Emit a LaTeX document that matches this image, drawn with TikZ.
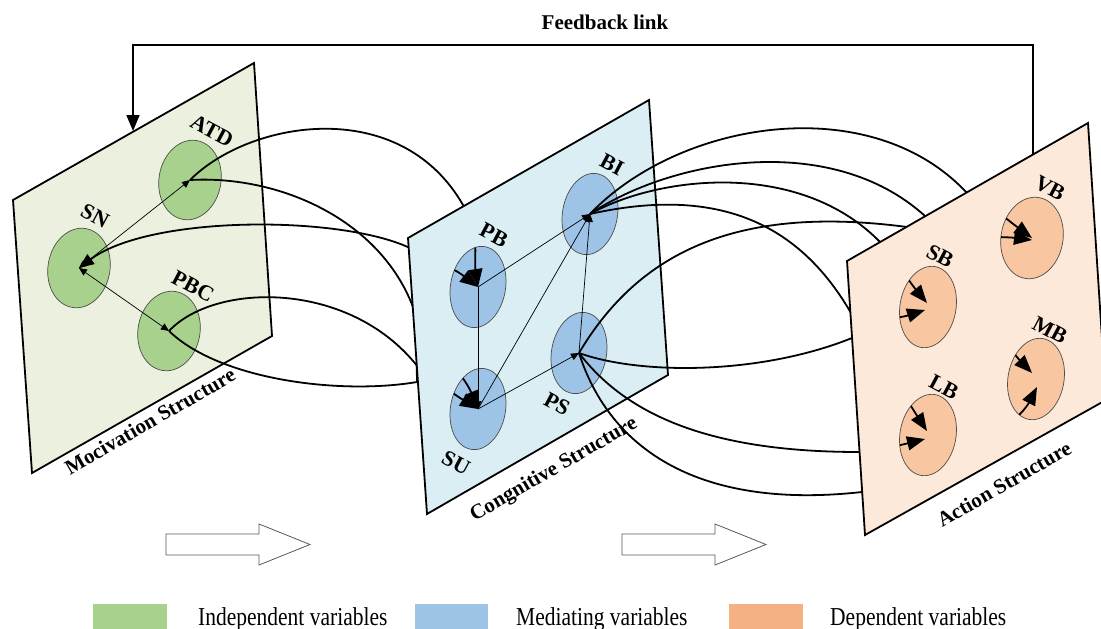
\documentclass[tikz,border=0pt]{standalone}
\usepackage{fontspec}
\setmainfont{Liberation Serif}
\usetikzlibrary{shapes.geometric,arrows.meta,calc}
\pgfdeclarelayer{motive}
\pgfdeclarelayer{leftlinks}
\pgfdeclarelayer{cognition}
\pgfdeclarelayer{cogtop}
\pgfdeclarelayer{rightlinks}
\pgfdeclarelayer{action}
\pgfsetlayers{motive,leftlinks,cognition,cogtop,rightlinks,action,main}

\definecolor{indep}{HTML}{A9D18E}
\definecolor{medi}{HTML}{9DC3E6}
\definecolor{depend}{HTML}{F4B183}
\definecolor{lpanel}{HTML}{EBF1DE}
\definecolor{mpanel}{HTML}{DAEEF3}
\definecolor{rpanel}{HTML}{FDE9D9}
\definecolor{rbubble}{HTML}{F8C6A0}
\definecolor{blockgray}{HTML}{595959}

\begin{document}
\begin{tikzpicture}[x=1pt,y=-1pt,
  panel/.style={draw=black, line width=1.8pt, line join=miter},
  bubble/.style={ellipse, draw=black!70, line width=0.7pt, inner sep=0pt, rotate=-10},
  lbub/.style={bubble, fill=indep, minimum width=62pt, minimum height=80pt},
  mbub/.style={bubble, fill=medi, minimum width=55pt, minimum height=82pt},
  rbub/.style={bubble, fill=rbubble, minimum width=56pt, minimum height=82pt},
  vbub/.style={rbub, minimum width=62pt},
  link/.style={line width=1.8pt},
  bighead/.style={-{Triangle[length=18pt,width=14pt]}},
  midhead/.style={-{Triangle[length=15pt,width=12pt]}},
  fine/.style={line width=0.7pt},
  finearrow/.style={fine, -{Triangle[length=8pt,width=7pt]}},
  finedouble/.style={fine, {Triangle[length=8pt,width=7pt]}-{Triangle[length=8pt,width=7pt]}},
  fbline/.style={line width=1.6pt, -{Triangle[length=16pt,width=13pt]}},
  vlabel/.style={font=\fontsize{22}{22}\selectfont\bfseries, rotate=-28, inner sep=0pt},
  plabel/.style={font=\fontsize{21}{21}\selectfont\bfseries, rotate=30, inner sep=0pt},
  legendtext/.style={font=\fontsize{21.5}{21.5}\selectfont, anchor=base west, inner sep=0pt, yscale=1.2},
  blockarrow/.style={draw=blockgray, line width=0.8pt, fill=white, line join=miter}
]
\useasboundingbox (0,0) rectangle (1101,629);
\clip (0,0) rectangle (1101,629);

% ---------- motivation structure ----------
\begin{pgfonlayer}{motive}
  \coordinate (fbR) at (1033,160);
  \coordinate (fbL) at (133,131);
  \draw[fbline] (fbR) -- ++(0,-115) -| (fbL);
  \draw[panel, fill=lpanel] (13,200) -- (254,63) -- (272,336) -- (32,473) -- cycle;
  \node[lbub] (ATD) at (190,180) {};
  \node[lbub] (SN)  at (79,268) {};
  \node[lbub] (PBC) at (169,331) {};
  \draw[finedouble] (SN.center) -- (ATD.center);
  \draw[finedouble] (SN.center) -- (PBC.center);
\end{pgfonlayer}

% ---------- cognitive structure ----------
\begin{pgfonlayer}{cognition}
  \draw[panel, fill=mpanel] (408,238) -- (649,100) -- (668,375) -- (427,514) -- cycle;
  \node[mbub] (PB) at (478,287) {};
  \node[mbub] (BI) at (590,214) {};
  \node[mbub] (PS) at (579,353) {};
  \node[mbub] (SU) at (478,409) {};
\end{pgfonlayer}

% ---------- action structure ----------
\begin{pgfonlayer}{action}
  \draw[panel, fill=rpanel] (847,261) -- (1088,123) -- (1106,400) -- (865,535) -- cycle;
  \node[vbub] (VB) at (1032,238) {};
  \node[rbub] (SB) at (928,307) {};
  \node[rbub] (MB) at (1036,379) {};
  \node[rbub] (LB) at (928,435) {};
\end{pgfonlayer}

% points where the links slip behind a panel
\coordinate (eA1) at (463,205);
\coordinate (eA2) at (413,307);
\coordinate (eSN) at (410,248);
\coordinate (eA4) at (418,367);
\coordinate (eA5) at (417,382);
\coordinate (eC1) at (966,192);
\coordinate (eC2) at (925,216);
\coordinate (eC3) at (880,242);
\coordinate (eC4) at (851,313);
\coordinate (eP1) at (907,227);
\coordinate (eP2) at (852,338);
\coordinate (eP3) at (859,452);
\coordinate (eP4) at (862,492);

% ---------- links: motivation -> cognition ----------
\begin{pgfonlayer}{leftlinks}
  \draw[link] (ATD.center) .. controls (250,120) and (400,95) .. (eA1) .. controls (480,225) and (474,260) .. (PB.center);
  \draw[link] (ATD.center) .. controls (280,175) and (380,220) .. (eA2) .. controls (425,340) and (462,370) .. (SU.center);
  \draw[link, midhead] (BI.center) .. controls (530,225) and (450,245) .. (eSN) .. controls (340,215) and (150,215) .. (SN.center);
  \draw[link] (PBC.center) .. controls (215,282) and (350,280) .. (eA4) .. controls (435,380) and (455,395) .. (SU.center);
  \draw[link] (PBC.center) .. controls (220,380) and (340,395) .. (eA5) .. controls (415,280) and (430,250) .. (PB.center);
\end{pgfonlayer}

% ---------- arrow ends inside PB and SU, inner links ----------
\begin{pgfonlayer}{cogtop}
  \begin{scope}
    \clip[rotate around={-10:(PB.center)}] (PB.center) ellipse (27.5pt and 41pt);
    \draw[link, bighead] (eA1) .. controls (480,225) and (474,260) .. (PB.center);
    \draw[link, bighead] (eA5) .. controls (415,280) and (430,250) .. (PB.center);
  \end{scope}
  \begin{scope}
    \clip[rotate around={-10:(SU.center)}] (SU.center) ellipse (27.5pt and 41pt);
    \draw[link, bighead] (eA2) .. controls (425,340) and (462,370) .. (SU.center);
    \draw[link, bighead] (eA4) .. controls (435,380) and (455,395) .. (SU.center);
  \end{scope}
  \draw[finearrow] (PB.center) -- (BI.center);
  \draw[finearrow] (PB.center) -- (SU.center);
  \draw[finearrow] (SU.center) -- (BI.center);
  \draw[finearrow] (SU.center) -- (PS.center);
  \draw[finearrow] (PS.center) -- (BI.center);
\end{pgfonlayer}

% ---------- links: cognition -> action ----------
\begin{pgfonlayer}{rightlinks}
  \draw[link] (BI.center) .. controls (680,120) and (870,90) .. (eC1) .. controls (985,200) and (1005,218) .. (VB.center);
  \draw[link] (BI.center) .. controls (670,160) and (830,130) .. (eC2) .. controls (950,240) and (1000,236) .. ($(VB)+(0,2)$);
  \draw[link] (BI.center) .. controls (660,175) and (800,160) .. (eC3) .. controls (895,260) and (912,285) .. ($(SB)+(-1,-4)$);
  \draw[link] (BI.center) .. controls (720,185) and (800,225) .. (eC4) .. controls (870,322) and (900,318) .. ($(SB)+(-3,3)$);
  \draw[link] (PS.center) .. controls (640,250) and (740,205) .. (eP1) .. controls (960,260) and (1005,345) .. ($(MB)+(-4,-6)$);
  \draw[link] (PS.center) .. controls (640,375) and (760,375) .. (eP2) .. controls (885,360) and (910,405) .. ($(LB)+(-1,-4)$);
  \draw[link] (PS.center) .. controls (630,420) and (720,452) .. (eP3) .. controls (880,450) and (905,444) .. ($(LB)+(-3,4)$);
  \draw[link] (PS.center) .. controls (610,450) and (700,510) .. (eP4) .. controls (950,480) and (1020,420) .. ($(MB)+(1,8)$);
\end{pgfonlayer}

% ---------- arrow ends inside the action bubbles ----------
\begin{scope}
  \clip[rotate around={-10:(VB.center)}] (VB.center) ellipse (31pt and 41pt);
  \draw[link, bighead] (eC1) .. controls (985,200) and (1005,218) .. (VB.center);
  \draw[link, bighead] (eC2) .. controls (950,240) and (1000,236) .. ($(VB)+(0,2)$);
\end{scope}
\begin{scope}
  \clip[rotate around={-10:(SB.center)}] (SB.center) ellipse (28pt and 41pt);
  \draw[link, bighead] (eC3) .. controls (895,260) and (912,285) .. ($(SB)+(-1,-4)$);
  \draw[link, bighead] (eC4) .. controls (870,322) and (900,318) .. ($(SB)+(-3,3)$);
\end{scope}
\begin{scope}
  \clip[rotate around={-10:(MB.center)}] (MB.center) ellipse (28pt and 41pt);
  \draw[link, bighead] (eP1) .. controls (960,260) and (1005,345) .. ($(MB)+(-4,-6)$);
  \draw[link, bighead] (eP4) .. controls (950,480) and (1020,420) .. ($(MB)+(1,8)$);
\end{scope}
\begin{scope}
  \clip[rotate around={-10:(LB.center)}] (LB.center) ellipse (28pt and 41pt);
  \draw[link, bighead] (eP2) .. controls (885,360) and (910,405) .. ($(LB)+(-1,-4)$);
  \draw[link, bighead] (eP3) .. controls (880,450) and (905,444) .. ($(LB)+(-3,4)$);
\end{scope}

% ---------- variable labels ----------
\node[vlabel] (tATD) at (212,131) {ATD};
\node[vlabel] (tSN)  at (95,216)  {SN};
\node[vlabel] (tPBC) at (193,286) {PBC};
\node[vlabel] (tPB)  at (494,235) {PB};
\node[vlabel] (tBI)  at (612,165) {BI};
\node[vlabel] (tPS)  at (557,404) {PS};
\node[vlabel] (tSU)  at (456,463) {SU};
\node[vlabel] (tVB)  at (1050,188) {VB};
\node[vlabel] (tSB)  at (940,256) {SB};
\node[vlabel] (tMB)  at (1050,330) {MB};
\node[vlabel] (tLB)  at (944,387) {LB};

% ---------- structure labels ----------
\node[plabel] (tMot) at (150,421) {Mocivation Structure};
\node[plabel] (tCog) at (554,470) {Congnitive Structure};
\node[plabel] (tAct) at (1004,484) {Action Structure};

\node[font=\fontsize{21}{21}\selectfont\bfseries, anchor=base, inner sep=0pt] (tFb) at (605,30) {Feedback link};

% ---------- flow arrows ----------
\draw[blockarrow] (166,534) -- (259,534) -- (259,524) -- (310,544.5) -- (259,565) -- (259,555) -- (166,555) -- cycle;
\draw[blockarrow] (622,534) -- (715,534) -- (715,524) -- (766,544.5) -- (715,565) -- (715,555) -- (622,555) -- cycle;

% ---------- legend ----------
\fill[indep]  (93,604) rectangle (167,630);
\fill[medi]   (415,604) rectangle (488,630);
\fill[depend] (729,604) rectangle (803,630);
\node[legendtext] (lgI) at (198,625) {Independent variables};
\node[legendtext] (lgM) at (516,625) {Mediating variables};
\node[legendtext] (lgD) at (830,625) {Dependent variables};
\end{tikzpicture}
\end{document}
